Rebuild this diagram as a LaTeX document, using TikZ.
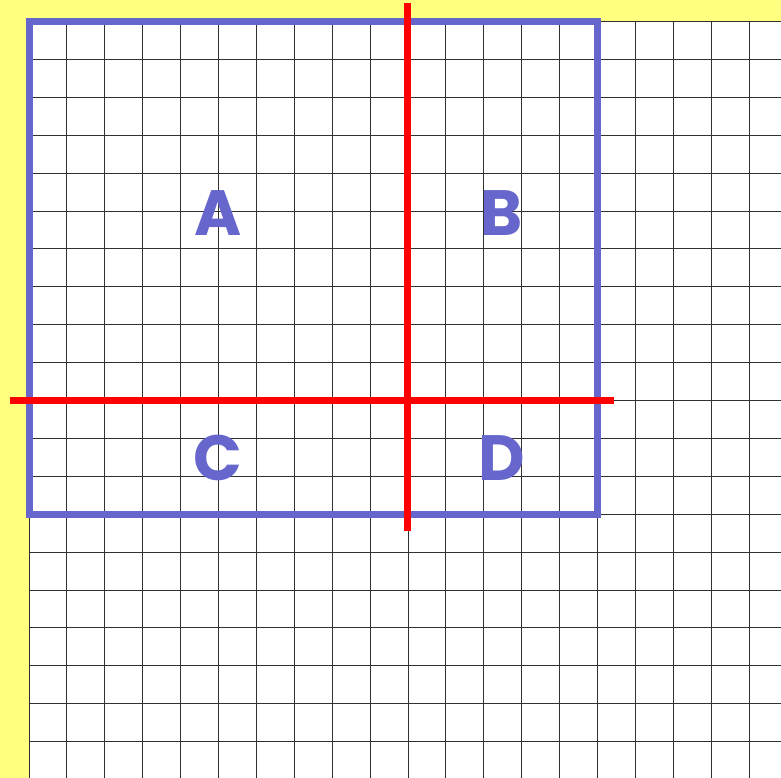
\documentclass[tikz,border=0pt]{standalone}
\usepackage{fontspec}
\newfontfamily\lettfont{Poppins}
\definecolor{bgyellow}{HTML}{FFFF80}
\definecolor{boxblue}{HTML}{6666CC}
\definecolor{gridgray}{HTML}{303030}
\begin{document}
\begin{tikzpicture}[x=1pt,y=-1pt,
  gridline/.style={draw=gridgray,line width=0.9pt},
  quad/.style={draw=boxblue,line width=7pt},
  cut/.style={draw=red,line width=7pt},
  lett/.style={text=boxblue,font=\lettfont\bfseries\fontsize{64}{64}\selectfont,inner sep=0pt}]
\useasboundingbox (0,0) rectangle (781,778);
\fill[bgyellow] (0,0) rectangle (781,778);
\fill[white] (29,21.5) rectangle (781,778);
\foreach \k in {0,...,19} {
  \draw[gridline] ({29+\k*37.9},21.5) -- ({29+\k*37.9},778);
  \draw[gridline] (29,{21.5+\k*37.9}) -- (781,{21.5+\k*37.9});
}
\draw[quad] (29,21.5) rectangle (597.5,514);
\coordinate (vt) at (407,3);
\coordinate (vb) at (407,531);
\coordinate (hl) at (10,400);
\coordinate (hr) at (614,400);
\draw[cut] (vt) -- (vb);
\draw[cut] (hl) -- (hr);
\node[lett] (A) at (218,213) {A};
\node[lett] (B) at (502,213) {B};
\node[lett] (C) at (218,458) {C};
\node[lett] (D) at (502,458) {D};
\end{tikzpicture}
\end{document}
